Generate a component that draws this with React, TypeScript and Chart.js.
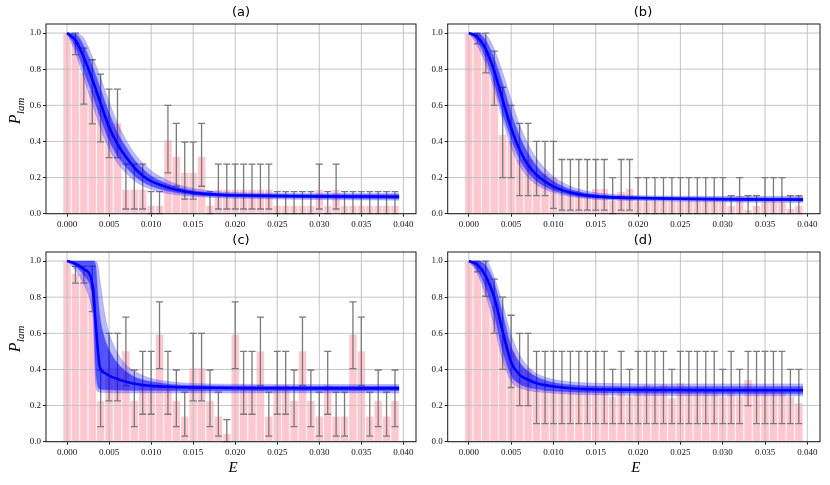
import { useEffect, useRef } from 'react';
import { Chart, registerables } from 'chart.js';

Chart.register(...registerables);

// bin centres of the histogram
const bins = [
  0.000, 0.001, 0.002, 0.003, 0.004, 0.005, 0.006, 0.007, 0.008, 0.009,
  0.010, 0.011, 0.012, 0.013, 0.014, 0.015, 0.016, 0.017, 0.018, 0.019,
  0.020, 0.021, 0.022, 0.023, 0.024, 0.025, 0.026, 0.027, 0.028, 0.029,
  0.030, 0.031, 0.032, 0.033, 0.034, 0.035, 0.036, 0.037, 0.038, 0.039,
];
const xTicks = [0, 0.005, 0.01, 0.015, 0.02, 0.025, 0.03, 0.035, 0.04];
const yTicks = [0, 0.2, 0.4, 0.6, 0.8, 1.0];

// (a)
const barsA = [1.0, 0.95, 0.78, 0.68, 0.6, 0.5, 0.5, 0.133, 0.133, 0.133, 0.044, 0.044, 0.407, 0.315, 0.226, 0.226, 0.315, 0.044, 0.133, 0.133, 0.133, 0.133, 0.133, 0.133, 0.133, 0.044, 0.044, 0.044, 0.044, 0.044, 0.133, 0.044, 0.133, 0.044, 0.044, 0.044, 0.044, 0.044, 0.044, 0.044];
const loA = [1.0, 0.88, 0.607, 0.497, 0.398, 0.31, 0.31, 0.026, 0.026, 0.026, 0, 0, 0.226, 0.152, 0.081, 0.081, 0.152, 0, 0.026, 0.026, 0.026, 0.026, 0.026, 0.026, 0.026, 0, 0, 0, 0, 0, 0.026, 0, 0.026, 0, 0, 0, 0, 0, 0, 0];
const hiA = [1.0, 1.0, 0.917, 0.852, 0.773, 0.69, 0.69, 0.274, 0.274, 0.274, 0.122, 0.122, 0.6, 0.5, 0.396, 0.396, 0.5, 0.122, 0.274, 0.274, 0.274, 0.274, 0.274, 0.274, 0.274, 0.122, 0.122, 0.122, 0.122, 0.122, 0.274, 0.122, 0.274, 0.122, 0.122, 0.122, 0.122, 0.122, 0.122, 0.122];

// (b)
const barsB = [1.0, 1.0, 0.9, 0.75, 0.437, 0.4, 0.3, 0.3, 0.22, 0.22, 0.2, 0.11, 0.11, 0.11, 0.11, 0.137, 0.137, 0.07, 0.12, 0.137, 0.067, 0.067, 0.067, 0.067, 0.067, 0.067, 0.067, 0.067, 0.067, 0.067, 0.067, 0.043, 0.1, 0.02, 0.043, 0.067, 0.067, 0.067, 0.026, 0.043];
const loB = [1.0, 0.94, 0.78, 0.6, 0.2, 0.2, 0.1, 0.1, 0.1, 0.1, 0.03, 0.02, 0.02, 0.02, 0.02, 0.02, 0.02, 0, 0.02, 0.02, 0, 0, 0, 0, 0, 0, 0, 0, 0, 0, 0, 0, 0, 0, 0, 0, 0, 0, 0, 0];
const hiB = [1.0, 1.0, 1.0, 0.9, 0.7, 0.6, 0.5, 0.5, 0.4, 0.4, 0.4, 0.3, 0.3, 0.3, 0.3, 0.3, 0.3, 0.2, 0.3, 0.3, 0.2, 0.2, 0.2, 0.2, 0.2, 0.2, 0.2, 0.2, 0.2, 0.2, 0.2, 0.1, 0.2, 0.1, 0.1, 0.2, 0.2, 0.2, 0.1, 0.1];

// (c)
const barsC = [1.0, 0.93, 0.93, 0.86, 0.226, 0.407, 0.407, 0.5, 0.226, 0.315, 0.315, 0.593, 0.315, 0.226, 0.139, 0.407, 0.407, 0.226, 0.139, 0.043, 0.593, 0.315, 0.315, 0.5, 0.139, 0.315, 0.315, 0.226, 0.5, 0.226, 0.139, 0.315, 0.139, 0.139, 0.593, 0.5, 0.139, 0.226, 0.139, 0.226];
const loC = [1.0, 0.878, 0.878, 0.72, 0.083, 0.226, 0.226, 0.31, 0.083, 0.152, 0.152, 0.404, 0.152, 0.083, 0.031, 0.226, 0.226, 0.083, 0.031, 0, 0.404, 0.152, 0.152, 0.31, 0.031, 0.152, 0.152, 0.083, 0.31, 0.083, 0.031, 0.152, 0.031, 0.031, 0.404, 0.31, 0.031, 0.083, 0.031, 0.083];
const hiC = [1.0, 0.97, 0.97, 0.97, 0.397, 0.6, 0.6, 0.69, 0.397, 0.5, 0.5, 0.774, 0.5, 0.397, 0.274, 0.6, 0.6, 0.397, 0.274, 0.122, 0.774, 0.5, 0.5, 0.69, 0.274, 0.5, 0.5, 0.397, 0.69, 0.397, 0.274, 0.5, 0.274, 0.274, 0.774, 0.69, 0.274, 0.397, 0.274, 0.397];

// (d)
const barsD = [1.0, 1.0, 0.9, 0.75, 0.6, 0.5, 0.4, 0.4, 0.286, 0.286, 0.286, 0.286, 0.286, 0.286, 0.286, 0.286, 0.286, 0.25, 0.286, 0.25, 0.286, 0.315, 0.286, 0.315, 0.24, 0.324, 0.286, 0.286, 0.286, 0.286, 0.25, 0.286, 0.25, 0.343, 0.286, 0.286, 0.286, 0.286, 0.25, 0.213];
const loD = [1.0, 0.94, 0.805, 0.6, 0.4, 0.3, 0.2, 0.2, 0.1, 0.1, 0.1, 0.1, 0.1, 0.1, 0.1, 0.1, 0.1, 0.1, 0.1, 0.1, 0.1, 0.1, 0.1, 0.1, 0.1, 0.1, 0.1, 0.1, 0.1, 0.1, 0.1, 0.1, 0.1, 0.2, 0.1, 0.1, 0.1, 0.1, 0.1, 0.1];
const hiD = [1.0, 1.0, 1.0, 0.9, 0.8, 0.7, 0.6, 0.6, 0.5, 0.5, 0.5, 0.5, 0.5, 0.5, 0.5, 0.5, 0.5, 0.4, 0.5, 0.4, 0.5, 0.5, 0.5, 0.5, 0.4, 0.5, 0.5, 0.5, 0.5, 0.5, 0.4, 0.5, 0.4, 0.5, 0.5, 0.5, 0.5, 0.5, 0.4, 0.4];

// fitted curves and their bands (a, b, d share one grid)
const fitX = [0, 0.001, 0.002, 0.003, 0.004, 0.005, 0.006, 0.007, 0.008, 0.009, 0.010, 0.012, 0.014, 0.016, 0.018, 0.020, 0.025, 0.030, 0.035, 0.0395];

const fitA = [1.0, 0.96, 0.865, 0.745, 0.61, 0.48, 0.385, 0.315, 0.255, 0.21, 0.18, 0.145, 0.123, 0.111, 0.105, 0.102, 0.098, 0.096, 0.095, 0.094];
const outHiA = [1.0, 1.0, 0.97, 0.87, 0.75, 0.62, 0.5, 0.41, 0.335, 0.28, 0.238, 0.183, 0.15, 0.132, 0.122, 0.117, 0.113, 0.112, 0.112, 0.112];
const inHiA = [1.0, 0.995, 0.93, 0.82, 0.69, 0.56, 0.45, 0.37, 0.3, 0.25, 0.21, 0.165, 0.137, 0.122, 0.114, 0.11, 0.107, 0.106, 0.106, 0.106];
const inLoA = [1.0, 0.92, 0.79, 0.66, 0.525, 0.405, 0.32, 0.26, 0.21, 0.175, 0.152, 0.125, 0.109, 0.1, 0.095, 0.092, 0.088, 0.085, 0.083, 0.082];
const outLoA = [1.0, 0.89, 0.75, 0.61, 0.47, 0.36, 0.28, 0.225, 0.183, 0.155, 0.135, 0.112, 0.1, 0.093, 0.088, 0.085, 0.081, 0.078, 0.076, 0.075];

const fitB = [1.0, 0.978, 0.91, 0.79, 0.63, 0.475, 0.354, 0.27, 0.215, 0.178, 0.15, 0.117, 0.1, 0.093, 0.089, 0.087, 0.083, 0.08, 0.079, 0.078];
const outHiB = [1.0, 1.0, 0.99, 0.91, 0.78, 0.63, 0.49, 0.385, 0.305, 0.25, 0.205, 0.152, 0.124, 0.111, 0.104, 0.1, 0.097, 0.096, 0.096, 0.096];
const inHiB = [1.0, 1.0, 0.96, 0.86, 0.72, 0.56, 0.43, 0.335, 0.265, 0.215, 0.18, 0.135, 0.113, 0.102, 0.097, 0.094, 0.091, 0.089, 0.088, 0.088];
const inLoB = [1.0, 0.955, 0.86, 0.72, 0.55, 0.415, 0.3, 0.228, 0.18, 0.15, 0.128, 0.102, 0.089, 0.083, 0.08, 0.078, 0.074, 0.071, 0.07, 0.069];
const outLoB = [1.0, 0.93, 0.83, 0.69, 0.52, 0.37, 0.265, 0.2, 0.16, 0.135, 0.117, 0.095, 0.083, 0.077, 0.074, 0.072, 0.068, 0.065, 0.063, 0.062];

const fitD = [1.0, 0.98, 0.917, 0.8, 0.61, 0.44, 0.37, 0.343, 0.324, 0.313, 0.306, 0.296, 0.291, 0.289, 0.288, 0.287, 0.286, 0.285, 0.285, 0.285];
const outHiD = [1.0, 1.0, 1.0, 0.91, 0.76, 0.59, 0.48, 0.415, 0.378, 0.357, 0.344, 0.331, 0.325, 0.322, 0.321, 0.32, 0.32, 0.32, 0.32, 0.32];
const inHiD = [1.0, 1.0, 0.975, 0.88, 0.71, 0.53, 0.44, 0.39, 0.36, 0.34, 0.328, 0.315, 0.309, 0.307, 0.306, 0.305, 0.305, 0.305, 0.305, 0.305];
const inLoD = [1.0, 0.95, 0.85, 0.7, 0.5, 0.365, 0.32, 0.3, 0.29, 0.284, 0.28, 0.275, 0.272, 0.27, 0.269, 0.268, 0.267, 0.266, 0.266, 0.266];
const outLoD = [1.0, 0.93, 0.81, 0.64, 0.45, 0.335, 0.298, 0.284, 0.277, 0.272, 0.268, 0.263, 0.26, 0.258, 0.257, 0.256, 0.255, 0.254, 0.254, 0.254];

// (c) has a much sharper drop, so it gets its own grid
const fitXC = [0, 0.001, 0.002, 0.0028, 0.0031, 0.0034, 0.0037, 0.0039, 0.0045, 0.005, 0.006, 0.007, 0.008, 0.009, 0.010, 0.012, 0.015, 0.020, 0.025, 0.030, 0.035, 0.0395];
const fitC = [1.0, 0.985, 0.955, 0.915, 0.84, 0.66, 0.49, 0.415, 0.38, 0.366, 0.347, 0.332, 0.321, 0.314, 0.309, 0.304, 0.3, 0.297, 0.296, 0.295, 0.295, 0.295];
const outHiC = [1.0, 1.0, 1.0, 1.0, 1.0, 1.0, 0.97, 0.9, 0.7, 0.6, 0.49, 0.426, 0.39, 0.367, 0.35, 0.333, 0.322, 0.318, 0.317, 0.317, 0.317, 0.317];
const inHiC = [1.0, 1.0, 1.0, 1.0, 1.0, 0.98, 0.8, 0.7, 0.57, 0.51, 0.435, 0.39, 0.36, 0.343, 0.333, 0.32, 0.312, 0.309, 0.308, 0.308, 0.308, 0.308];
const inLoC = [1.0, 0.97, 0.92, 0.85, 0.76, 0.4, 0.3, 0.29, 0.287, 0.286, 0.285, 0.284, 0.283, 0.283, 0.283, 0.282, 0.282, 0.282, 0.282, 0.282, 0.282, 0.282];
const outLoC = [1.0, 0.95, 0.87, 0.77, 0.68, 0.32, 0.278, 0.274, 0.272, 0.271, 0.27, 0.27, 0.27, 0.27, 0.27, 0.27, 0.27, 0.27, 0.27, 0.27, 0.27, 0.27];

const SERIF = '"Liberation Serif", "DejaVu Serif", serif';
const pts = (xs: number[], ys: number[]) => xs.map((x, i) => ({ x, y: ys[i] }));

type PanelProps = {
  title: string;
  bars: number[]; lo: number[]; hi: number[];
  fx: number[]; fit: number[];
  outHi: number[]; inHi: number[]; inLo: number[]; outLo: number[];
  yLabel: boolean; xLabel: boolean;
  left: number; top: number; width: number; height: number;
  yAxisW: number; xAxisH: number; padRight: number; titleX: number;
};

function Panel(p: PanelProps) {
  const canvasRef = useRef<HTMLCanvasElement>(null);
  const chartRef = useRef<Chart | null>(null);

  useEffect(() => {
    if (!canvasRef.current) return;
    if (chartRef.current) chartRef.current.destroy();

    const band = (ys: number[], fill: string | boolean, color: string, order: number) => ({
      type: 'line' as const,
      data: pts(p.fx, ys),
      fill,
      backgroundColor: color,
      borderColor: 'rgba(80,80,255,0.35)',
      borderWidth: 0.8,
      pointRadius: 0,
      cubicInterpolationMode: 'monotone' as const,
      order,
    });

    const decor = {
      id: 'decor',
      // grid and error bars go above the bars but under the bands
      afterDatasetDraw(chart: any, args: any) {
        if (args.index !== 0) return;
        const { ctx, chartArea: a, scales } = chart;
        ctx.save();
        ctx.strokeStyle = '#bdbdbd';
        ctx.lineWidth = 0.9;
        ctx.beginPath();
        scales.x.ticks.forEach((t: any) => {
          const px = scales.x.getPixelForValue(t.value);
          ctx.moveTo(px, a.top); ctx.lineTo(px, a.bottom);
        });
        scales.y.ticks.forEach((t: any) => {
          const py = scales.y.getPixelForValue(t.value);
          ctx.moveTo(a.left, py); ctx.lineTo(a.right, py);
        });
        ctx.stroke();

        ctx.strokeStyle = '#7a7a7a';
        ctx.lineWidth = 1.3;
        ctx.beginPath();
        bins.forEach((b, i) => {
          if (p.hi[i] === p.lo[i]) return;
          const px = scales.x.getPixelForValue(b);
          const y1 = scales.y.getPixelForValue(p.lo[i]);
          const y2 = scales.y.getPixelForValue(p.hi[i]);
          ctx.moveTo(px, y1); ctx.lineTo(px, y2);
          ctx.moveTo(px - 3.5, y1); ctx.lineTo(px + 3.5, y1);
          ctx.moveTo(px - 3.5, y2); ctx.lineTo(px + 3.5, y2);
        });
        ctx.stroke();
        ctx.restore();
      },
      afterDraw(chart: any) {
        const { ctx, chartArea: a } = chart;
        ctx.save();
        ctx.strokeStyle = '#1a1a1a';
        ctx.lineWidth = 1;
        ctx.strokeRect(a.left, a.top, a.right - a.left, a.bottom - a.top);

        ctx.fillStyle = '#000';
        ctx.textAlign = 'center';
        ctx.textBaseline = 'alphabetic';
        ctx.font = '13px "DejaVu Sans"';
        ctx.fillText(p.title, p.titleX, 16);

        if (p.xLabel) {
          ctx.font = `italic 15px ${SERIF}`;
          ctx.fillText('E', (a.left + a.right) / 2 + 2, a.bottom + 30.5);
        }
        if (p.yLabel) {
          ctx.translate(20, (a.top + a.bottom) / 2 - 8);
          ctx.rotate(-Math.PI / 2);
          ctx.textAlign = 'left';
          ctx.font = `italic 16px ${SERIF}`;
          const wP = ctx.measureText('P').width;
          ctx.font = `italic 11px ${SERIF}`;
          const wS = ctx.measureText('lam').width;
          const start = -(wP + wS + 0.5) / 2;
          ctx.font = `italic 16px ${SERIF}`;
          ctx.fillText('P', start, 0);
          ctx.font = `italic 11px ${SERIF}`;
          ctx.fillText('lam', start + wP + 0.5, 3.5);
        }
        ctx.restore();
      },
    };

    chartRef.current = new Chart(canvasRef.current, {
      type: 'bar',
      data: {
        datasets: [
          {
            type: 'bar',
            data: pts(bins, p.bars),
            backgroundColor: 'rgba(255,182,193,0.75)',
            borderColor: '#ffffff',
            borderWidth: { left: 0.8, right: 0.8, top: 0, bottom: 0 },
            barPercentage: 1,
            categoryPercentage: 1,
            order: 6,
          },
          band(p.outHi, '+1', 'rgba(0,0,255,0.27)', 5),
          band(p.outLo, false, 'rgba(0,0,255,0)', 4),
          band(p.inHi, '+1', 'rgba(0,0,255,0.55)', 3),
          band(p.inLo, false, 'rgba(0,0,255,0)', 2),
          {
            type: 'line',
            data: pts(p.fx, p.fit),
            borderColor: '#0000ff',
            borderWidth: 2.6,
            pointRadius: 0,
            fill: false,
            cubicInterpolationMode: 'monotone',
            order: 1,
          },
        ] as any,
      },
      options: {
        animation: false,
        responsive: true,
        maintainAspectRatio: false,
        events: [],
        layout: { padding: { left: 0, top: 24, right: p.padRight, bottom: 0 } },
        plugins: { legend: { display: false }, tooltip: { enabled: false }, title: { display: false } },
        scales: {
          x: {
            type: 'linear',
            min: -0.0025,
            max: 0.0415,
            offset: false,
            afterBuildTicks: (s: any) => { s.ticks = xTicks.map((v) => ({ value: v })); },
            afterFit: (s: any) => { s.height = p.xAxisH; },
            grid: { drawOnChartArea: false, color: 'rgba(0,0,0,0)', tickColor: '#222', tickLength: 3, offset: false },
            border: { display: false },
            ticks: {
              autoSkip: false, maxRotation: 0, padding: 3, color: '#111',
              font: { family: SERIF, size: 9 },
              callback: (v: any) => Number(v).toFixed(3),
            },
          },
          y: {
            type: 'linear',
            min: 0,
            max: 1.05,
            afterBuildTicks: (s: any) => { s.ticks = yTicks.map((v) => ({ value: v })); },
            afterFit: (s: any) => { s.width = p.yAxisW; },
            grid: { drawOnChartArea: false, color: 'rgba(0,0,0,0)', tickColor: '#222', tickLength: 3 },
            border: { display: false },
            ticks: {
              padding: 2, color: '#111',
              font: { family: SERIF, size: 9 },
              callback: (v: any) => Number(v).toFixed(1),
            },
          },
        },
      },
      plugins: [decor],
    });

    return () => {
      if (chartRef.current) {
        chartRef.current.destroy();
        chartRef.current = null;
      }
    };
  }, []);

  return (
    <div style={{ position: 'absolute', left: p.left, top: p.top, width: p.width, height: p.height }}>
      <canvas ref={canvasRef} />
    </div>
  );
}

export default function App() {
  return (
    <div style={{ position: 'fixed', left: 0, top: 0, width: 830, height: 485, background: '#fff', overflow: 'hidden' }}>
      <Panel title="(a)" bars={barsA} lo={loA} hi={hiA} fx={fitX} fit={fitA}
        outHi={outHiA} inHi={inHiA} inLo={inLoA} outLo={outLoA}
        yLabel xLabel={false} left={0} top={0} width={420} height={242}
        yAxisW={46} xAxisH={28.3} padRight={4} titleX={241} />
      <Panel title="(b)" bars={barsB} lo={loB} hi={hiB} fx={fitX} fit={fitB}
        outHi={outHiB} inHi={inHiB} inLo={inLoB} outLo={outLoB}
        yLabel={false} xLabel={false} left={420} top={0} width={410} height={242}
        yAxisW={27.7} xAxisH={28.3} padRight={10} titleX={223} />
      <Panel title="(c)" bars={barsC} lo={loC} hi={hiC} fx={fitXC} fit={fitC}
        outHi={outHiC} inHi={inHiC} inLo={inLoC} outLo={outLoC}
        yLabel xLabel left={0} top={228} width={420} height={257}
        yAxisW={46} xAxisH={43.3} padRight={4} titleX={241} />
      <Panel title="(d)" bars={barsD} lo={loD} hi={hiD} fx={fitX} fit={fitD}
        outHi={outHiD} inHi={inHiD} inLo={inLoD} outLo={outLoD}
        yLabel={false} xLabel left={420} top={228} width={410} height={257}
        yAxisW={27.7} xAxisH={43.3} padRight={10} titleX={223} />
    </div>
  );
}
